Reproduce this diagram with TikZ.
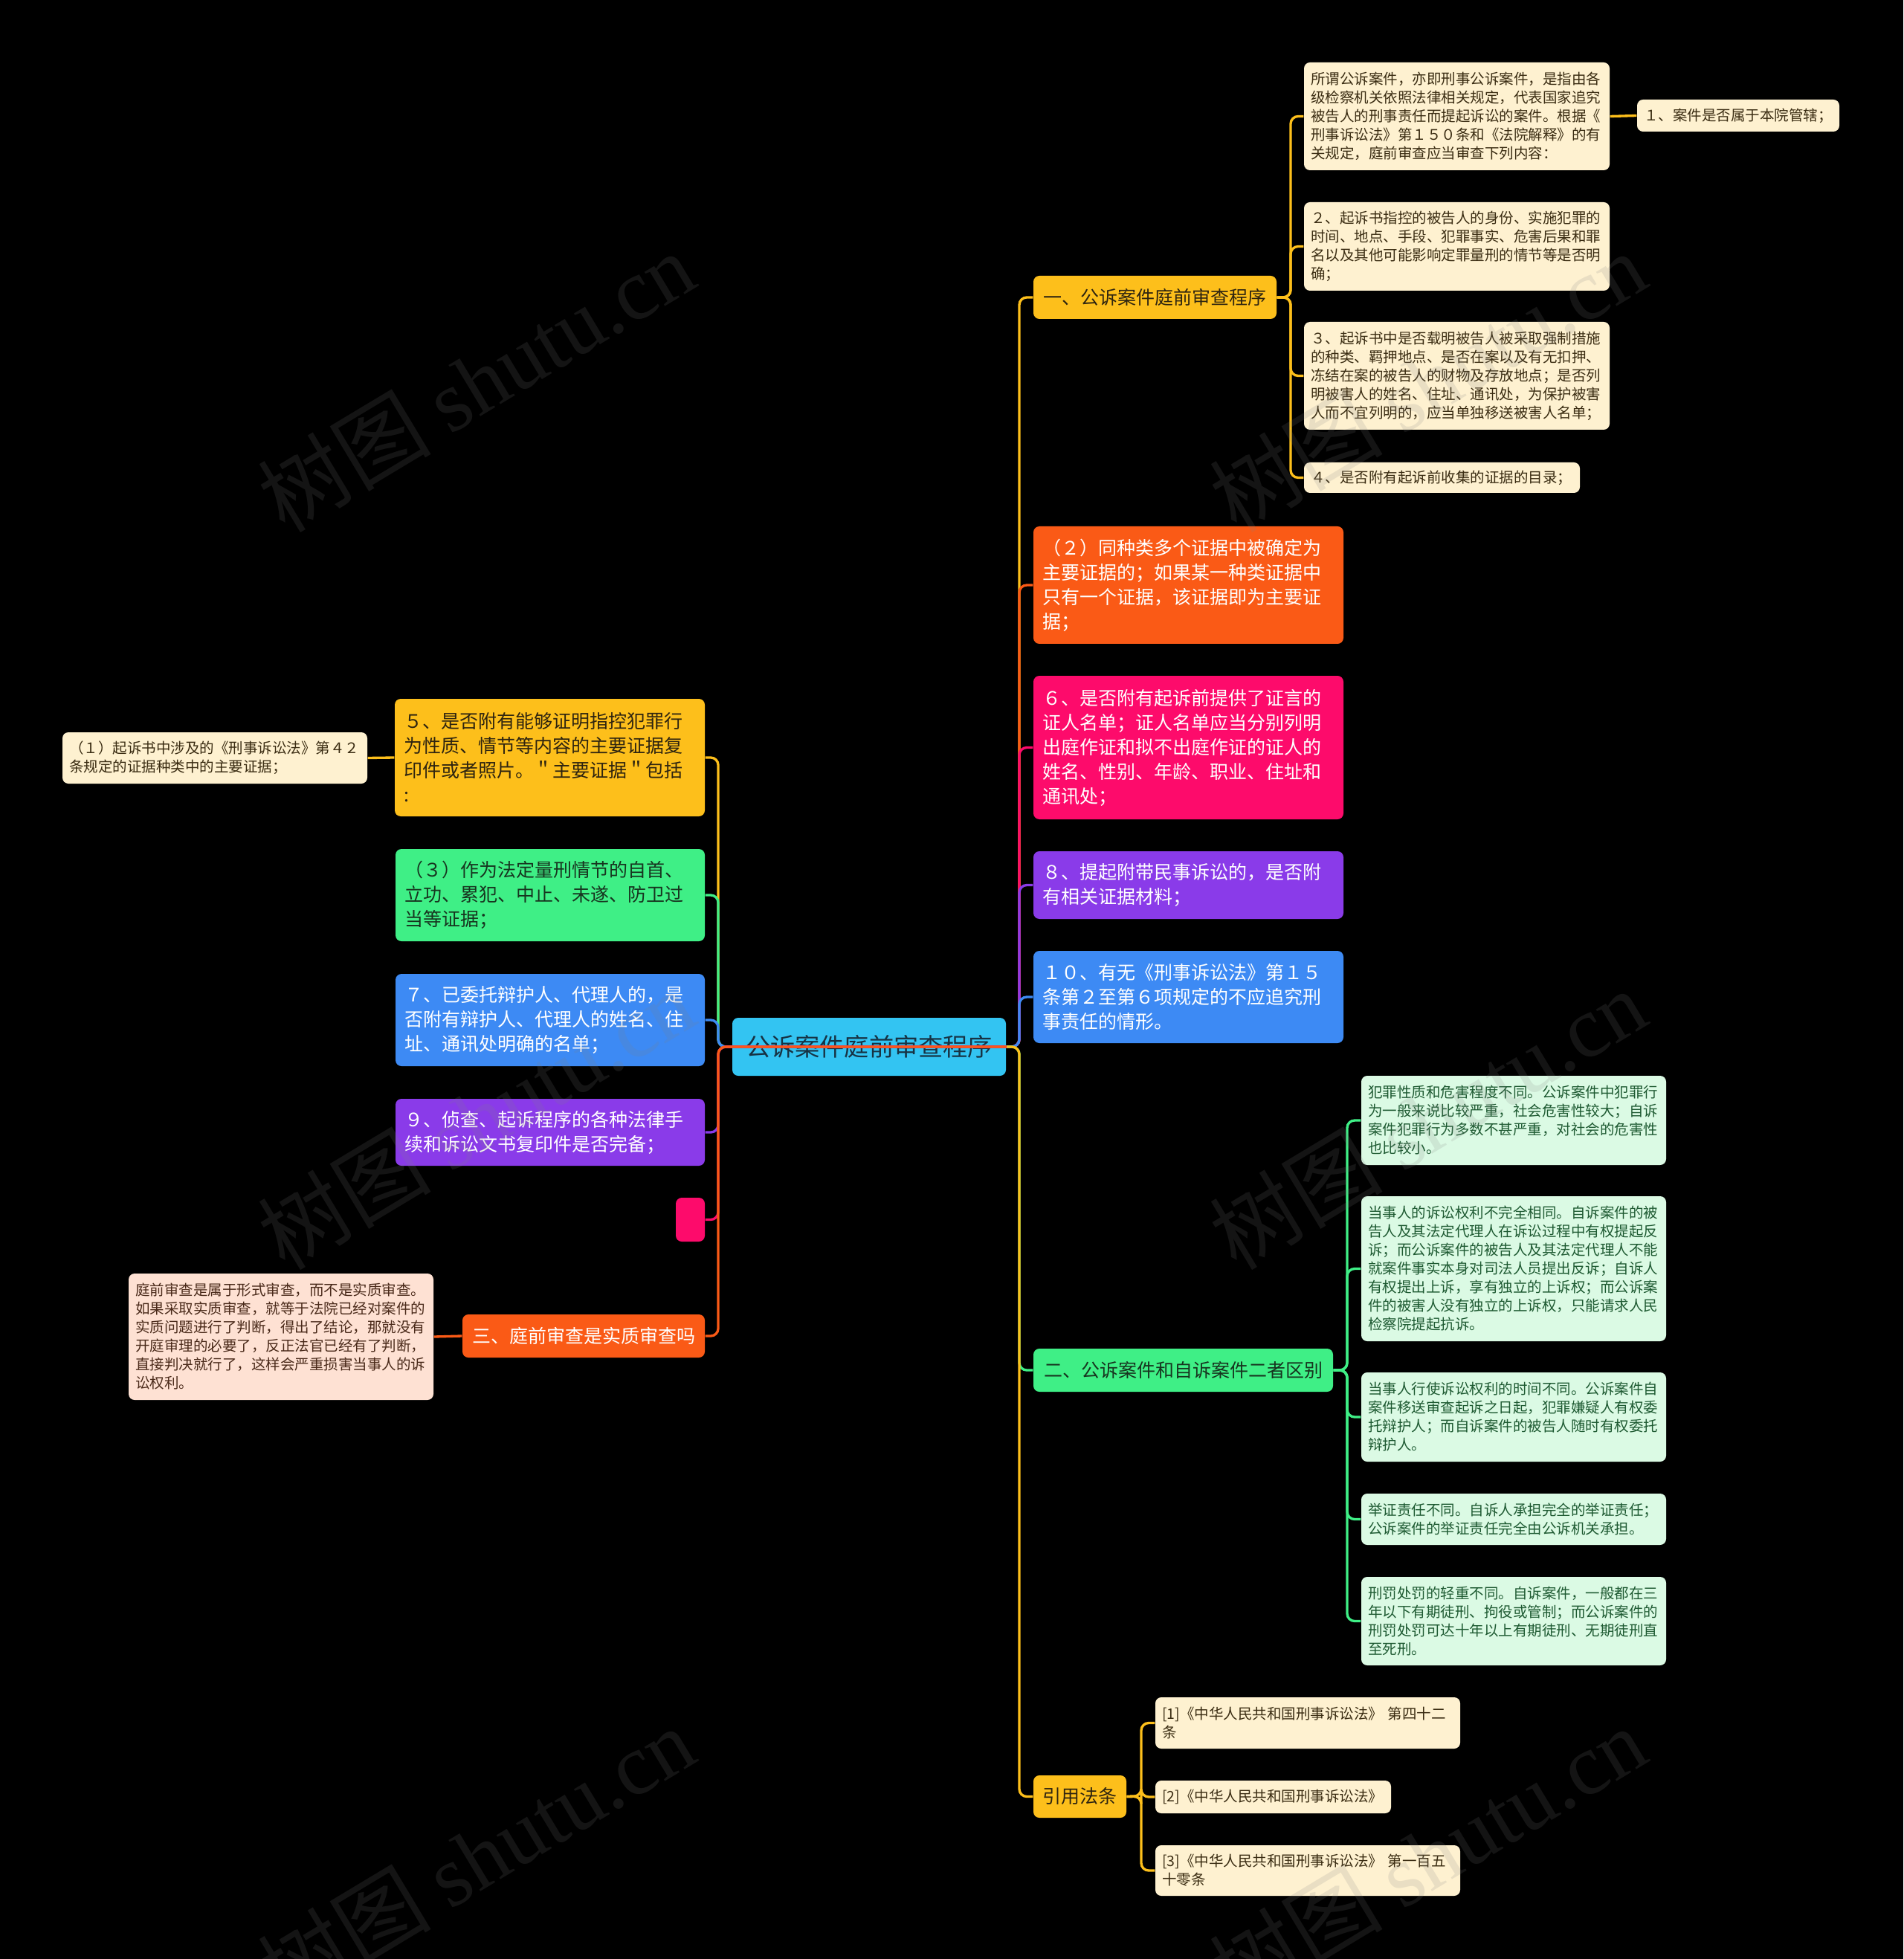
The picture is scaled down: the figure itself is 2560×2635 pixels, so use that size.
\documentclass[tikz,border=0pt]{standalone}
\usepackage{fontspec}
\setmainfont{Noto Sans CJK SC}
\newfontfamily\wmlatin{Liberation Serif}
\definecolor{cgold}{HTML}{FDBF1B}
\definecolor{corange}{HTML}{FA5A16}
\definecolor{cpink}{HTML}{FD0B6B}
\definecolor{cpurple}{HTML}{8A3BE9}
\definecolor{cblue}{HTML}{3D8AF4}
\definecolor{cgreen}{HTML}{3FEF86}
\definecolor{ccenter}{HTML}{33C4F2}
\definecolor{ccream}{HTML}{FEF1D0}
\definecolor{cmint}{HTML}{DBFAE4}
\definecolor{cpeach}{HTML}{FEE1D3}
\definecolor{tgold}{HTML}{2E2410}
\definecolor{tgreen}{HTML}{17341F}
\definecolor{tcenter}{HTML}{173344}
\definecolor{tbrown}{HTML}{3A2C12}
\definecolor{tmint}{HTML}{1E5A32}
\definecolor{tpeach}{HTML}{4A2A1A}
% name, style, pad(px), x1, y1, x2, y2, text
\newcommand\mkbox[8]{%
 \pgfmathsetmacro\bw{(#6-#4)*0.3}%
 \pgfmathsetmacro\bh{(#7-#5)*0.3}%
 \pgfmathsetmacro\btw{(#6-#4-2*#3)*0.3}%
 \pgfmathsetmacro\bpd{#3*0.3}%
 \node[#2, minimum width=\bw pt, minimum height=\bh pt, text width=\btw pt, inner xsep=\bpd pt] (#1) at ({(#4+#6)/2},{(#5+#7)/2}) {#8};}
\begin{document}
\begin{tikzpicture}[x=0.3pt,y=-0.3pt,
 box/.style={rounded corners=2.4pt, inner ysep=0pt, align=left, draw=none},
 tbox/.style={box, font=\fontsize{7.5pt}{9.9pt}\selectfont},
 lbox/.style={box, font=\fontsize{5.85pt}{7.5pt}\selectfont},
 goldt/.style={tbox, fill=cgold, text=tgold, align=center},
 greent/.style={tbox, fill=cgreen, text=tgreen},
 oranget/.style={tbox, fill=corange, text=white},
 pinkt/.style={tbox, fill=cpink, text=white},
 purplet/.style={tbox, fill=cpurple, text=white},
 bluet/.style={tbox, fill=cblue, text=white},
 goldb/.style={tbox, fill=cgold, text=tgold},
 cream/.style={lbox, fill=ccream, text=tbrown},
 mint/.style={lbox, fill=cmint, text=tmint},
 peach/.style={lbox, fill=cpeach, text=tpeach},
 centerbox/.style={box, fill=ccenter, text=tcenter, align=center, font=\fontsize{9.96pt}{12pt}\selectfont},
 conn/.style={line width=1pt, rounded corners=3pt},
 wmark/.style={text=gray, opacity=0.16, font=\fontsize{35pt}{35pt}\selectfont, rotate=31}
]
\fill[black] (0,0) rectangle (2560,2635);
\useasboundingbox (0,0) rectangle (2560,2635);

% center
\mkbox{C}{centerbox}{6}{985}{1369}{1353}{1447}{公诉案件庭前审查程序}

% right main children
\mkbox{r1}{goldt}{6}{1390}{371}{1717}{429}{一、公诉案件庭前审查程序}
\mkbox{r2}{oranget}{12}{1390}{708}{1807}{866}{（２）同种类多个证据中被确定为\\主要证据的；如果某一种类证据中\\只有一个证据，该证据即为主要证\\据；}
\mkbox{r3}{pinkt}{12}{1390}{909}{1807}{1102}{６、是否附有起诉前提供了证言的\\证人名单；证人名单应当分别列明\\出庭作证和拟不出庭作证的证人的\\姓名、性别、年龄、职业、住址和\\通讯处；}
\mkbox{r4}{purplet}{12}{1390}{1145}{1807}{1236}{８、提起附带民事诉讼的，是否附\\有相关证据材料；}
\mkbox{r5}{bluet}{12}{1390}{1279}{1807}{1403}{１０、有无《刑事诉讼法》第１５\\条第２至第６项规定的不应追究刑\\事责任的情形。}
\mkbox{r6}{greent,align=center}{6}{1390}{1814}{1793}{1872}{二、公诉案件和自诉案件二者区别}
\mkbox{r7}{goldt}{4}{1390}{2388}{1515}{2445}{引用法条}

% left main children
\mkbox{l1}{goldb}{12}{531}{940}{948}{1098}{５、是否附有能够证明指控犯罪行\\为性质、情节等内容的主要证据复\\印件或者照片。＂主要证据＂包括\\:}
\mkbox{l2}{greent}{12}{532}{1142}{948}{1266}{（３）作为法定量刑情节的自首、\\立功、累犯、中止、未遂、防卫过\\当等证据；}
\mkbox{l3}{bluet}{12}{532}{1310}{948}{1434}{７、已委托辩护人、代理人的，是\\否附有辩护人、代理人的姓名、住\\址、通讯处明确的名单；}
\mkbox{l4}{purplet}{12}{532}{1478}{948}{1568}{９、侦查、起诉程序的各种法律手\\续和诉讼文书复印件是否完备；}
\mkbox{l5}{pinkt}{2}{909}{1611}{948}{1670}{}
\mkbox{l6}{oranget,align=center}{6}{622}{1768}{948}{1826}{三、庭前审查是实质审查吗}

% leaves of r1
\mkbox{a1}{cream}{9}{1754}{84}{2165}{229}{所谓公诉案件，亦即刑事公诉案件，是指由各\\级检察机关依照法律相关规定，代表国家追究\\被告人的刑事责任而提起诉讼的案件。根据《\\刑事诉讼法》第１５０条和《法院解释》的有\\关规定，庭前审查应当审查下列内容：}
\mkbox{a1b}{cream}{9}{2202}{134}{2474}{177}{１、案件是否属于本院管辖；}
\mkbox{a2}{cream}{9}{1754}{272}{2165}{391}{２、起诉书指控的被告人的身份、实施犯罪的\\时间、地点、手段、犯罪事实、危害后果和罪\\名以及其他可能影响定罪量刑的情节等是否明\\确；}
\mkbox{a3}{cream}{9}{1754}{433}{2165}{578}{３、起诉书中是否载明被告人被采取强制措施\\的种类、羁押地点、是否在案以及有无扣押、\\冻结在案的被告人的财物及存放地点；是否列\\明被害人的姓名、住址、通讯处，为保护被害\\人而不宜列明的，应当单独移送被害人名单；}
\mkbox{a4}{cream}{9}{1754}{622}{2125}{663}{４、是否附有起诉前收集的证据的目录；}

% leaves of r6
\mkbox{b1}{mint}{9}{1831}{1447}{2241}{1567}{犯罪性质和危害程度不同。公诉案件中犯罪行\\为一般来说比较严重，社会危害性较大；自诉\\案件犯罪行为多数不甚严重，对社会的危害性\\也比较小。}
\mkbox{b2}{mint}{9}{1831}{1609}{2241}{1804}{当事人的诉讼权利不完全相同。自诉案件的被\\告人及其法定代理人在诉讼过程中有权提起反\\诉；而公诉案件的被告人及其法定代理人不能\\就案件事实本身对司法人员提出反诉；自诉人\\有权提出上诉，享有独立的上诉权；而公诉案\\件的被害人没有独立的上诉权，只能请求人民\\检察院提起抗诉。}
\mkbox{b3}{mint}{9}{1831}{1846}{2241}{1966}{当事人行使诉讼权利的时间不同。公诉案件自\\案件移送审查起诉之日起，犯罪嫌疑人有权委\\托辩护人；而自诉案件的被告人随时有权委托\\辩护人。}
\mkbox{b4}{mint}{9}{1831}{2009}{2241}{2078}{举证责任不同。自诉人承担完全的举证责任；\\公诉案件的举证责任完全由公诉机关承担。}
\mkbox{b5}{mint}{9}{1831}{2121}{2241}{2240}{刑罚处罚的轻重不同。自诉案件，一般都在三\\年以下有期徒刑、拘役或管制；而公诉案件的\\刑罚处罚可达十年以上有期徒刑、无期徒刑直\\至死刑。}

% leaves of r7
\mkbox{c1}{cream}{9}{1554}{2283}{1964}{2352}{[1]《中华人民共和国刑事诉讼法》~第四十二\\条}
\mkbox{c2}{cream}{9}{1554}{2395}{1871}{2439}{[2]《中华人民共和国刑事诉讼法》}
\mkbox{c3}{cream}{9}{1554}{2482}{1964}{2550}{[3]《中华人民共和国刑事诉讼法》~第一百五\\十零条}

% left leaves
\mkbox{p1}{cream}{9}{84}{985}{494}{1054}{（１）起诉书中涉及的《刑事诉讼法》第４２\\条规定的证据种类中的主要证据；}
\mkbox{q1}{peach}{9}{173}{1713}{583}{1883}{庭前审查是属于形式审查，而不是实质审查。\\如果采取实质审查，就等于法院已经对案件的\\实质问题进行了判断，得出了结论，那就没有\\开庭审理的必要了，反正法官已经有了判断，\\直接判决就行了，这样会严重损害当事人的诉\\讼权利。}

% junction points
\coordinate (RT) at (1371,1408);
\coordinate (LT) at (966,1408);
\coordinate (S1) at (1736,400);
\coordinate (S6) at (1812,1843);
\coordinate (S7) at (1535,2416);

% right connectors
\draw[conn, cgold] (C.east) -- (RT) |- (r1.west);
\draw[conn, corange] (C.east) -- (RT) |- (r2.west);
\draw[conn, cpink] (C.east) -- (RT) |- (r3.west);
\draw[conn, cpurple] (C.east) -- (RT) |- (r4.west);
\draw[conn, cblue] (C.east) -- (RT) |- (r5.west);
\draw[conn, cgreen] (C.east) -- (RT) |- (r6.west);
\draw[conn, cgold] (C.east) -- (RT) |- (r7.west);

% left connectors
\draw[conn, cgold] (C.east) -- (LT) |- (l1.east);
\draw[conn, cgreen] (C.east) -- (LT) |- (l2.east);
\draw[conn, cblue] (C.east) -- (LT) |- (l3.east);
\draw[conn, cpurple] (C.east) -- (LT) |- (l4.east);
\draw[conn, cpink] (C.east) -- (LT) |- (l5.east);
\draw[conn, corange] (C.east) -- (LT) |- (l6.east);

% sub connectors
\foreach \t in {a1,a2,a3,a4}{\draw[conn, cgold] (r1.east) -- (S1) |- (\t.west);}
\draw[conn, cgold] (a1.east) -- (a1b.west);
\foreach \t in {b1,b2,b3,b4,b5}{\draw[conn, cgreen] (r6.east) -- (S6) |- (\t.west);}
\foreach \t in {c1,c2,c3}{\draw[conn, cgold] (r7.east) -- (S7) |- (\t.west);}
\draw[conn, cgold] (l1.west) -- (p1.east);
\draw[conn, corange] (l6.west) -- (q1.east);

% watermarks
\node[wmark] (w1) at (640,513) {树图 {\wmlatin shutu.cn}};
\node[wmark] (w2) at (640,1505) {树图 {\wmlatin shutu.cn}};
\node[wmark] (w3) at (640,2497) {树图 {\wmlatin shutu.cn}};
\node[wmark] (w4) at (1920,513) {树图 {\wmlatin shutu.cn}};
\node[wmark] (w5) at (1920,1505) {树图 {\wmlatin shutu.cn}};
\node[wmark] (w6) at (1920,2497) {树图 {\wmlatin shutu.cn}};
\end{tikzpicture}
\end{document}
